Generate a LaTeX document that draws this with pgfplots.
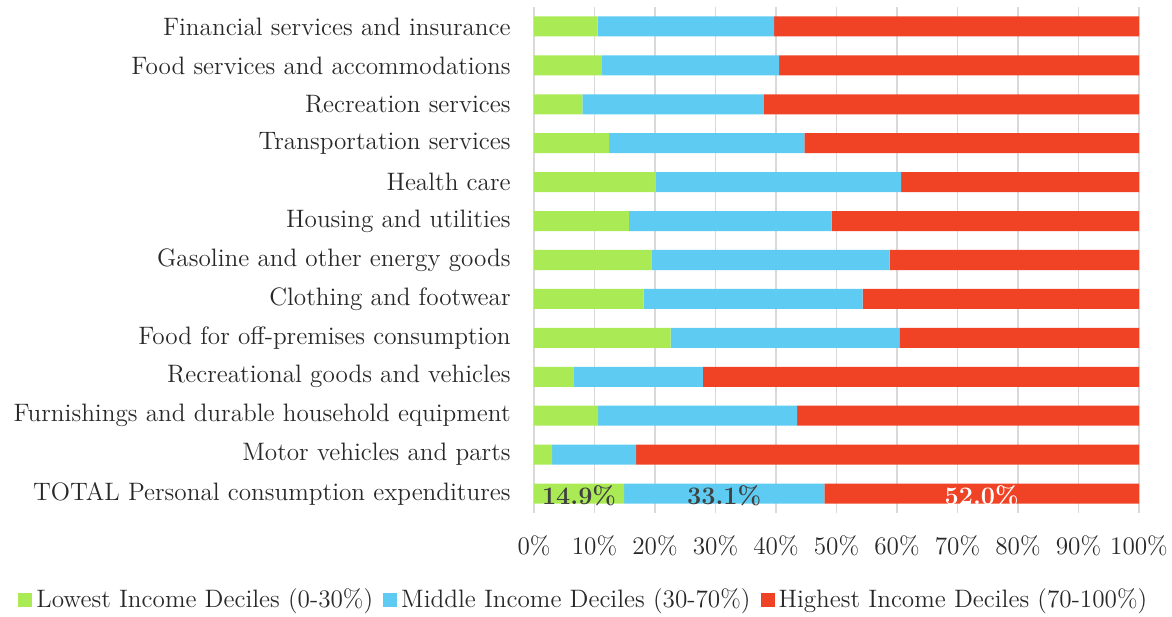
\documentclass[border=0pt]{standalone}
\usepackage{pgfplots}
\pgfplotsset{compat=1.18}
\usepackage{pgfplotstable}

\definecolor{cgreen}{RGB}{170,234,84}
\definecolor{cblue}{RGB}{94,204,242}
\definecolor{cred}{RGB}{240,66,36}
\definecolor{cgrid}{RGB}{217,217,217}
\definecolor{clab}{RGB}{64,64,64}
\definecolor{ctext}{RGB}{40,40,40}

\pgfplotstableread{
idx low mid high
0 14.9 33.1 52.0
1 3.0 13.9 83.1
2 10.6 32.9 56.5
3 6.5 21.4 72.1
4 22.6 37.8 39.6
5 18.1 36.2 45.7
6 19.4 39.4 41.2
7 15.7 33.5 50.8
8 20.1 40.6 39.3
9 12.4 32.3 55.3
10 8.0 30.0 62.0
11 11.2 29.3 59.5
12 10.5 29.2 60.3
}\data

\newcommand{\labfont}{\fontsize{12.6}{14}\selectfont}

\begin{document}
\begin{tikzpicture}
\begin{axis}[
  at={(267pt,51.5pt)}, anchor=south west,
  scale only axis, width=302.5pt, height=253pt,
  xbar stacked, bar width=10pt,
  xmin=0, xmax=100, ymin=-0.5, ymax=12.5,
  xtick={0,10,...,100},
  xticklabel={\pgfmathprintnumber{\tick}\%},
  ytick={0,...,12},
  yticklabels={TOTAL Personal consumption expenditures,
    Motor vehicles and parts,
    Furnishings and durable household equipment,
    Recreational goods and vehicles,
    Food for off-premises consumption,
    Clothing and footwear,
    Gasoline and other energy goods,
    Housing and utilities,
    Health care,
    Transportation services,
    Recreation services,
    Food services and accommodations,
    Financial services and insurance},
  xmajorgrids, grid style={cgrid, line width=0.8pt},
  axis line style={draw=none},
  major tick length=0pt,
  /pgf/number format/assume math mode=true,
  tick label style={font=\labfont, text=ctext},
  xticklabel style={anchor=center, yshift=-16.5pt},
  yticklabel style={anchor=east, inner sep=0pt, xshift=-11.5pt},
  legend columns=3,
  legend style={at={(-0.8529,-0.172)}, anchor=west, draw=none, fill=none,
    font=\labfont, text=ctext, inner sep=0pt,
    /tikz/every even column/.append style={column sep=3pt}},
  legend image code/.code={\fill[#1] (0pt,-3.5pt) rectangle (7pt,3.5pt);},
  after end axis/.code={
    \node[font=\labfont\bfseries, text=clab, yshift=-1pt] at (axis cs:7.45,0) {14.9\%};
    \node[font=\labfont\bfseries, text=clab, yshift=-1pt] at (axis cs:31.45,0) {33.1\%};
    \node[font=\labfont\bfseries, text=white, yshift=-1pt] at (axis cs:74,0) {52.0\%};
  },
]
\addplot[fill=cgreen, draw=none] table[x=low, y=idx] {\data};
\addplot[fill=cblue, draw=none] table[x=mid, y=idx] {\data};
\addplot[fill=cred, draw=none] table[x=high, y=idx] {\data};
\legend{Lowest Income Deciles (0-30\%), Middle Income Deciles (30-70\%), Highest Income Deciles (70-100\%)}
\end{axis}
\pgfresetboundingbox
\path[use as bounding box] (0,0) rectangle (586pt,308pt);
\end{tikzpicture}
\end{document}
